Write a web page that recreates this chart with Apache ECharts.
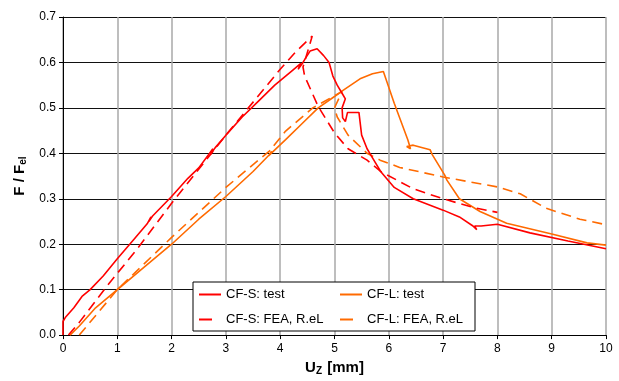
<!DOCTYPE html>
<html>
<head>
<meta charset="utf-8">
<script src="https://cdn.jsdelivr.net/npm/echarts@6/dist/echarts.min.js"></script>
<style>
  html, body { margin: 0; padding: 0; background: #fff; }
  #main { width: 619px; height: 381px; }
</style>
</head>
<body>
<div id="main"></div>
<script>
// tick labels
const xTicks = [0, 1, 2, 3, 4, 5, 6, 7, 8, 9, 10];
const yTicks = [0.0, 0.1, 0.2, 0.3, 0.4, 0.5, 0.6, 0.7];

// CF-S: test
const csTestX = [0, 0, 0.05, 0.2, 0.35, 0.5, 0.74, 1.0, 1.3, 1.55, 1.62, 1.58, 1.65, 2.0, 2.3, 2.5, 2.7, 2.76, 2.72, 2.8, 3.0, 3.3, 3.6, 3.9, 4.2, 4.38, 4.33, 4.42, 4.47, 4.55, 4.68, 4.8, 4.9, 4.97, 5.05, 5.15, 5.2, 5.14, 5.15, 5.2, 5.24, 5.45, 5.5, 5.6, 5.7, 5.85, 6.1, 6.45, 7.0, 7.3, 7.55, 7.62, 7.58, 7.7, 8.0, 8.6, 9.3, 10];
const csTestY = [0.0, 0.03, 0.04, 0.06, 0.085, 0.10, 0.13, 0.168, 0.21, 0.245, 0.26, 0.25, 0.262, 0.305, 0.345, 0.368, 0.40, 0.41, 0.398, 0.412, 0.44, 0.48, 0.515, 0.55, 0.58, 0.598, 0.585, 0.60, 0.61, 0.625, 0.63, 0.615, 0.60, 0.57, 0.55, 0.53, 0.52, 0.50, 0.478, 0.47, 0.49, 0.49, 0.44, 0.41, 0.39, 0.36, 0.325, 0.30, 0.275, 0.26, 0.24, 0.232, 0.24, 0.24, 0.244, 0.225, 0.207, 0.19];

// CF-S: FEA, R.eL
const csFeaX = [0.1, 0.3, 0.87, 1.37, 2.0, 3.0, 4.0, 4.3, 4.59, 4.42, 4.45, 4.7, 5.0, 5.25, 5.6, 5.85, 6.45, 7.0, 7.55, 8.0];
const csFeaY = [0.0, 0.028, 0.117, 0.19, 0.29, 0.44, 0.585, 0.625, 0.658, 0.59, 0.57, 0.503, 0.445, 0.41, 0.385, 0.36, 0.322, 0.30, 0.281, 0.27];

// CF-L: test
const clTestX = [0.13, 0.3, 0.6, 1.0, 1.05, 0.98, 1.5, 2.0, 2.5, 3.0, 3.5, 3.8, 3.84, 3.79, 4.1, 4.4, 4.7, 5.0, 5.15, 5.47, 5.7, 5.9, 6.1, 6.35, 6.4, 6.33, 6.45, 6.76, 6.8, 7.03, 7.07, 7.3, 7.68, 8.17, 9.02, 9.65, 10];
const clTestY = [0.0, 0.02, 0.06, 0.10, 0.106, 0.098, 0.15, 0.20, 0.255, 0.305, 0.36, 0.397, 0.405, 0.395, 0.43, 0.465, 0.50, 0.525, 0.538, 0.564, 0.575, 0.58, 0.51, 0.43, 0.41, 0.415, 0.418, 0.408, 0.397, 0.352, 0.341, 0.30, 0.272, 0.246, 0.222, 0.203, 0.198];

// CF-L: FEA, R.eL
const clFeaX = [0.3, 1.0, 2.0, 3.0, 3.8, 4.1, 4.6, 5.14, 5.0, 5.05, 5.25, 5.6, 5.84, 6.2, 7.0, 8.0, 8.42, 8.9, 9.52, 10];
const clFeaY = [0.0, 0.10, 0.215, 0.325, 0.405, 0.449, 0.50, 0.536, 0.50, 0.48, 0.44, 0.40, 0.385, 0.369, 0.348, 0.326, 0.311, 0.279, 0.255, 0.243];

const pairs = (xs, ys) => xs.map((x, i) => [x, ys[i]]);

const red = '#ff0000';
const orange = '#ff6a00';
const dash = [10, 6];
// legend shows only the first dash of a dashed line
const legendDash = [13, 30];

const chart = echarts.init(document.getElementById('main'));
chart.setOption({
  animation: false,
  backgroundColor: '#fff',
  grid: { left: 63, right: 13, top: 17, bottom: 40 },
  xAxis: {
    type: 'value',
    min: xTicks[0],
    max: xTicks[xTicks.length - 1],
    interval: 1,
    name: '{a|U}{s|Z}{a| [mm]}',
    nameLocation: 'middle',
    nameGap: 23,
    nameTextStyle: {
      rich: {
        a: { fontFamily: 'Liberation Sans', fontSize: 15, fontWeight: 'bold', color: '#000' },
        s: { fontFamily: 'Liberation Sans', fontSize: 10, fontWeight: 'bold', color: '#000', padding: [7, 1, 0, 0] }
      }
    },
    axisLine: { lineStyle: { color: '#000', width: 1 } },
    axisTick: { inside: false, length: 4, lineStyle: { color: '#000' } },
    axisLabel: { color: '#000', fontFamily: 'Liberation Sans', fontSize: 12, margin: 8 },
    splitLine: { show: true, lineStyle: { color: '#a8a8a8', width: 1.5 } }
  },
  yAxis: {
    type: 'value',
    min: yTicks[0],
    max: yTicks[yTicks.length - 1],
    interval: 0.1,
    name: '{a|F / F}{s|el}',
    nameLocation: 'middle',
    nameRotate: 90,
    nameGap: 33,
    nameTextStyle: {
      rich: {
        a: { fontFamily: 'Liberation Sans', fontSize: 15, fontWeight: 'bold', color: '#000' },
        s: { fontFamily: 'Liberation Sans', fontSize: 10, fontWeight: 'bold', color: '#000', padding: [7, 0, 0, 0] }
      }
    },
    axisLine: { show: true, lineStyle: { color: '#000', width: 1 } },
    axisTick: { show: true, length: 4, lineStyle: { color: '#000' } },
    axisLabel: {
      color: '#000', fontFamily: 'Liberation Sans', fontSize: 12, margin: 7,
      formatter: v => v.toFixed(1)
    },
    splitLine: { show: true, lineStyle: { color: '#111', width: 1 } }
  },
  legend: {
    left: 193,
    top: 282,
    width: 272,
    orient: 'horizontal',
    padding: [5, 5, 4, 5],
    itemWidth: 22,
    itemHeight: 14,
    itemGap: 10,
    itemStyle: { opacity: 0 },
    backgroundColor: '#fff',
    borderColor: '#000',
    borderWidth: 1,
    borderRadius: 0,
    textStyle: { color: '#000', fontFamily: 'Liberation Sans', fontSize: 13, width: 103, lineHeight: 15 },
    data: [
      { name: 'CF-S: test' },
      { name: 'CF-L: test' },
      { name: 'CF-S: FEA, R.eL', lineStyle: { type: legendDash } },
      { name: 'CF-L: FEA, R.eL', lineStyle: { type: legendDash } }
    ]
  },
  series: [
    {
      name: 'CF-S: test', type: 'line', showSymbol: false, symbol: 'none',
      data: pairs(csTestX, csTestY),
      lineStyle: { color: red, width: 1.6 }, itemStyle: { color: red }, z: 4
    },
    {
      name: 'CF-S: FEA, R.eL', type: 'line', showSymbol: false, symbol: 'none',
      data: pairs(csFeaX, csFeaY),
      lineStyle: { color: red, width: 1.6, type: dash }, itemStyle: { color: red }, z: 3
    },
    {
      name: 'CF-L: test', type: 'line', showSymbol: false, symbol: 'none',
      data: pairs(clTestX, clTestY),
      lineStyle: { color: orange, width: 1.6 }, itemStyle: { color: orange }, z: 2
    },
    {
      name: 'CF-L: FEA, R.eL', type: 'line', showSymbol: false, symbol: 'none',
      data: pairs(clFeaX, clFeaY),
      lineStyle: { color: orange, width: 1.6, type: dash }, itemStyle: { color: orange }, z: 1
    }
  ]
});
</script>
</body>
</html>
